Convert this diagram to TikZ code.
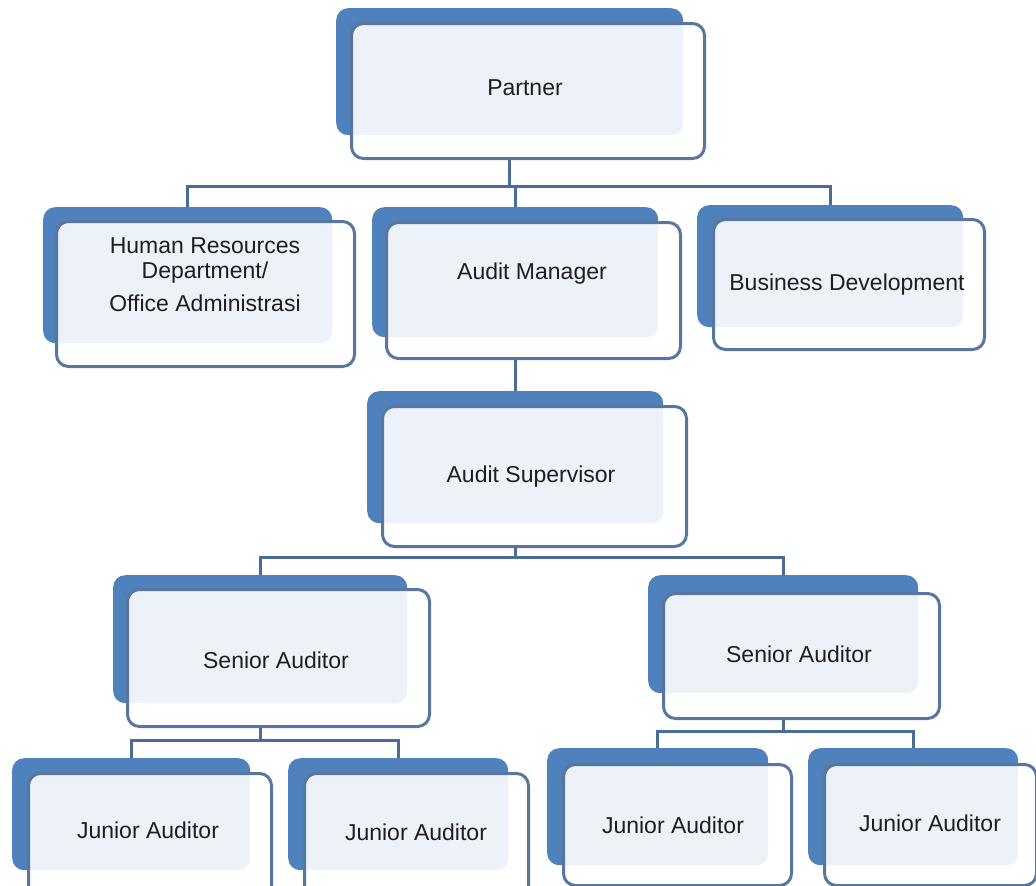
\documentclass[tikz,border=0pt]{standalone}
\usepackage{fontspec}
\setmainfont{Liberation Sans}
\usetikzlibrary{backgrounds}
\definecolor{backblue}{RGB}{79,129,189}
\definecolor{edgeblue}{RGB}{88,118,160}
\definecolor{linkblue}{RGB}{74,108,152}
\definecolor{txtgrey}{RGB}{30,30,30}
\tikzset{
  backbox/.style={fill=backblue, draw=none, rounded corners=12pt, inner sep=0pt},
  frontbox/.style={draw=edgeblue, line width=3pt, fill=white, fill opacity=0.9, rounded corners=12pt, inner sep=0pt},
  lbl/.style={text=txtgrey, font=\fontsize{23}{25}\selectfont, inner sep=0pt, align=center},
  link/.style={draw=linkblue, line width=3pt},
}
\newcommand\orgbox[9]{%
  \node[backbox, anchor=north west, minimum width={(#4-#2)*1pt}, minimum height={(#5-#3)*1pt}] (#1B) at (#2,#3) {};
  \node[frontbox, anchor=north west, minimum width={(#8-#6)*1pt}, minimum height={(#9-#7)*1pt}] (#1F) at (#6,#7) {};
}
\begin{document}
\begin{tikzpicture}[x=1pt,y=-1pt]
\useasboundingbox (0,0) rectangle (1036,886);
\clip (0,0) rectangle (1036,886);
% boxes
\orgbox{partner}{336}{8}{683}{135}{350}{22}{703}{157}
\orgbox{hr}{43}{207}{332}{343}{55}{220}{353}{365}
\orgbox{am}{372}{207}{658}{337}{385}{221}{679}{357}
\orgbox{bd}{697}{205}{963}{327}{712}{218}{983}{348}
\orgbox{as}{367}{391}{663}{523}{381}{405}{685}{545}
\orgbox{sl}{113}{575}{407}{703}{126}{588}{428}{725}
\orgbox{sr}{648}{575}{918}{693}{662}{592}{938}{717}
\orgbox{ja}{12}{758}{250}{870}{27}{772}{270}{898}
\orgbox{jb}{288}{758}{508}{870}{303}{772}{527}{898}
\orgbox{jc}{547}{748}{768}{865}{562}{763}{790}{884}
\orgbox{jd}{808}{748}{1018}{865}{823}{763}{1035}{884}
% labels
\node[lbl] (partnerT) at (525,88) {Partner};
\node[lbl] (hrT) at (205,275) {Human Resources\\Department/\\[8pt]Office Administrasi};
\node[lbl] (amT) at (532,274) {Audit Manager};
\node[lbl] (bdT) at (847,285) {Business Development};
\node[lbl] (asT) at (531,477) {Audit Supervisor};
\node[lbl] (slT) at (276,660) {Senior Auditor};
\node[lbl] (srT) at (799,654) {Senior Auditor};
\node[lbl] (jaT) at (148,830) {Junior Auditor};
\node[lbl] (jbT) at (416,832) {Junior Auditor};
\node[lbl] (jcT) at (673,825) {Junior Auditor};
\node[lbl] (jdT) at (930,823) {Junior Auditor};
% connectors
\begin{scope}[on background layer]
\coordinate (bus1) at (0,186);
\coordinate (bus2) at (0,557);
\coordinate (bus3) at (0,740);
\coordinate (bus4) at (0,731);
\draw[link] (partnerB |- partnerF.south) -- (partnerB |- bus1);
\draw[link] (hrB.north) |- (bdB.north |- bus1) -- (bdB.north);
\draw[link] (amB.north |- bus1) -- (amB.north);
\draw[link] (amB |- amF.south) -- (asB.north);
\draw[link] (asB |- asF.south) -- (asB |- bus2);
\draw[link] (slB.north) |- (srB.north |- bus2) -- (srB.north);
\draw[link] (slB |- slF.south) -- (slB |- bus3);
\draw[link] (jaB.north) |- (jbB.north |- bus3) -- (jbB.north);
\draw[link] (srB |- srF.south) -- (srB |- bus4);
\draw[link] (jcB.north) |- (jdB.north |- bus4) -- (jdB.north);
\end{scope}
\end{tikzpicture}
\end{document}
